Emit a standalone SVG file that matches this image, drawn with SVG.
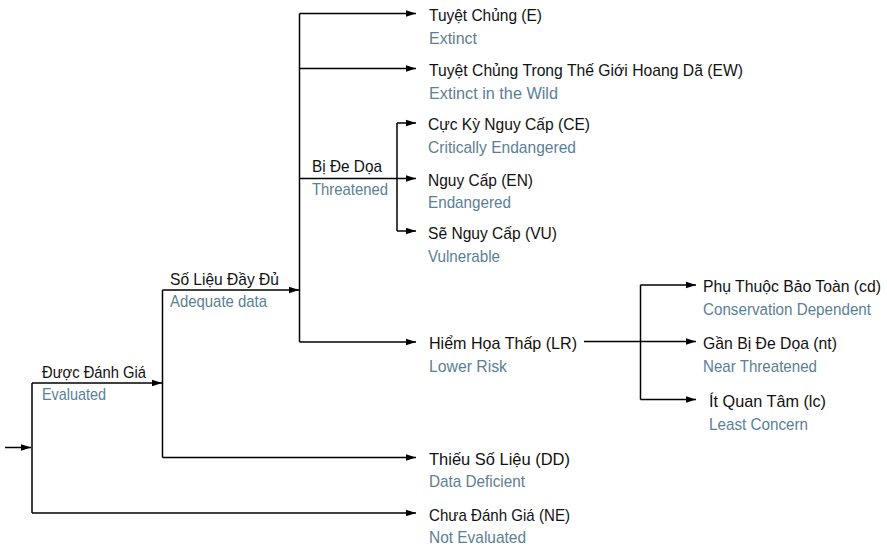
<svg xmlns="http://www.w3.org/2000/svg" width="887" height="546" viewBox="0 0 887 546">
<defs>
<marker id="ah" markerWidth="10" markerHeight="8" refX="10" refY="4" orient="auto" markerUnits="userSpaceOnUse">
<path d="M0,0.8 L10,4 L0,7.2 Z" fill="#000"/>
</marker>
<style>
.ln{fill:none;stroke:#000;stroke-width:1.5}
.ar{fill:none;stroke:#000;stroke-width:1.5;marker-end:url(#ah)}
text{font-family:"Liberation Sans",Arial,sans-serif;font-size:17px}
.vi{fill:#111}
.en{fill:#5b8096}
.sm{font-size:15px}
</style>
</defs>
<rect width="887" height="546" fill="#fff"/>
<g id="connectors">
<path class="ar" d="M5,447.5 H31"/>
<path class="ln" d="M32,383 V513"/>
<path class="ar" d="M32,383 H162"/>
<path class="ar" d="M32,513 H416"/>
<path class="ln" d="M162.5,290 V457.5"/>
<path class="ar" d="M162.5,290 H299"/>
<path class="ar" d="M162.5,457.5 H416"/>
<path class="ln" d="M299.5,13.5 V342"/>
<path class="ar" d="M299.5,13.5 H416"/>
<path class="ar" d="M299.5,68.5 H416"/>
<path class="ar" d="M299.5,178.5 H416"/>
<path class="ar" d="M299.5,342 H416"/>
<path class="ln" d="M397,123 V231"/>
<path class="ar" d="M397,123 H416"/>
<path class="ar" d="M397,231 H416"/>
<path class="ar" d="M584,341.5 H696"/>
<path class="ln" d="M640.5,285 V399.5"/>
<path class="ar" d="M640.5,285 H696"/>
<path class="ar" d="M640.5,399.5 H696"/>
</g>
<g id="evaluated"><text class="vi" x="42" y="378" textLength="104" lengthAdjust="spacingAndGlyphs">Được Đánh Giá</text><text class="en" x="42" y="400" textLength="64" lengthAdjust="spacingAndGlyphs">Evaluated</text></g>
<g id="adequate"><text class="vi" x="170" y="285" textLength="109" lengthAdjust="spacingAndGlyphs">Số Liệu Đầy Đủ</text><text class="en" x="170" y="307" textLength="97" lengthAdjust="spacingAndGlyphs">Adequate data</text></g>
<g id="threatened"><text class="vi" x="312" y="172" textLength="70" lengthAdjust="spacingAndGlyphs">Bị Đe Dọa</text><text class="en" x="312" y="195" textLength="76" lengthAdjust="spacingAndGlyphs">Threatened</text></g>
<g id="extinct"><text class="vi" x="429" y="21" textLength="113" lengthAdjust="spacingAndGlyphs">Tuyệt Chủng (E)</text><text class="en" x="429" y="44" textLength="48" lengthAdjust="spacingAndGlyphs">Extinct</text></g>
<g id="extinct-wild"><text class="vi" x="429" y="76" textLength="314" lengthAdjust="spacingAndGlyphs">Tuyệt Chủng Trong Thế Giới Hoang Dã (EW)</text><text class="en" x="429" y="99" textLength="129" lengthAdjust="spacingAndGlyphs">Extinct in the Wild</text></g>
<g id="ce"><text class="vi" x="428" y="130" textLength="162" lengthAdjust="spacingAndGlyphs">Cực Kỳ Nguy Cấp (CE)</text><text class="en" x="428" y="153" textLength="148" lengthAdjust="spacingAndGlyphs">Critically Endangered</text></g>
<g id="en"><text class="vi" x="428" y="186" textLength="105" lengthAdjust="spacingAndGlyphs">Nguy Cấp (EN)</text><text class="en" x="428" y="208" textLength="83" lengthAdjust="spacingAndGlyphs">Endangered</text></g>
<g id="vu"><text class="vi" x="428" y="239" textLength="129" lengthAdjust="spacingAndGlyphs">Sẽ Nguy Cấp (VU)</text><text class="en" x="428" y="262" textLength="72" lengthAdjust="spacingAndGlyphs">Vulnerable</text></g>
<g id="lr"><text class="vi" x="429" y="349" textLength="148" lengthAdjust="spacingAndGlyphs">Hiểm Họa Thấp (LR)</text><text class="en" x="429" y="372" textLength="78" lengthAdjust="spacingAndGlyphs">Lower Risk</text></g>
<g id="cd"><text class="vi sm" transform="translate(703,292) scale(1,1.133)" textLength="178" lengthAdjust="spacingAndGlyphs">Phụ Thuộc Bảo Toàn (cd)</text><text class="en sm" transform="translate(703,315) scale(1,1.133)" textLength="168" lengthAdjust="spacingAndGlyphs">Conservation Dependent</text></g>
<g id="nt"><text class="vi" x="703" y="349" textLength="134" lengthAdjust="spacingAndGlyphs">Gần Bị Đe Dọa (nt)</text><text class="en" x="703" y="372" textLength="114" lengthAdjust="spacingAndGlyphs">Near Threatened</text></g>
<g id="lc"><text class="vi" x="709" y="407" textLength="117" lengthAdjust="spacingAndGlyphs">Ít Quan Tâm (lc)</text><text class="en" x="709" y="430" textLength="99" lengthAdjust="spacingAndGlyphs">Least Concern</text></g>
<g id="dd"><text class="vi" x="429" y="465" textLength="141" lengthAdjust="spacingAndGlyphs">Thiếu Số Liệu (DD)</text><text class="en" x="429" y="487" textLength="96" lengthAdjust="spacingAndGlyphs">Data Deficient</text></g>
<g id="ne"><text class="vi" x="429" y="521" textLength="141" lengthAdjust="spacingAndGlyphs">Chưa Đánh Giá (NE)</text><text class="en" x="429" y="543" textLength="97" lengthAdjust="spacingAndGlyphs">Not Evaluated</text></g>
</svg>
